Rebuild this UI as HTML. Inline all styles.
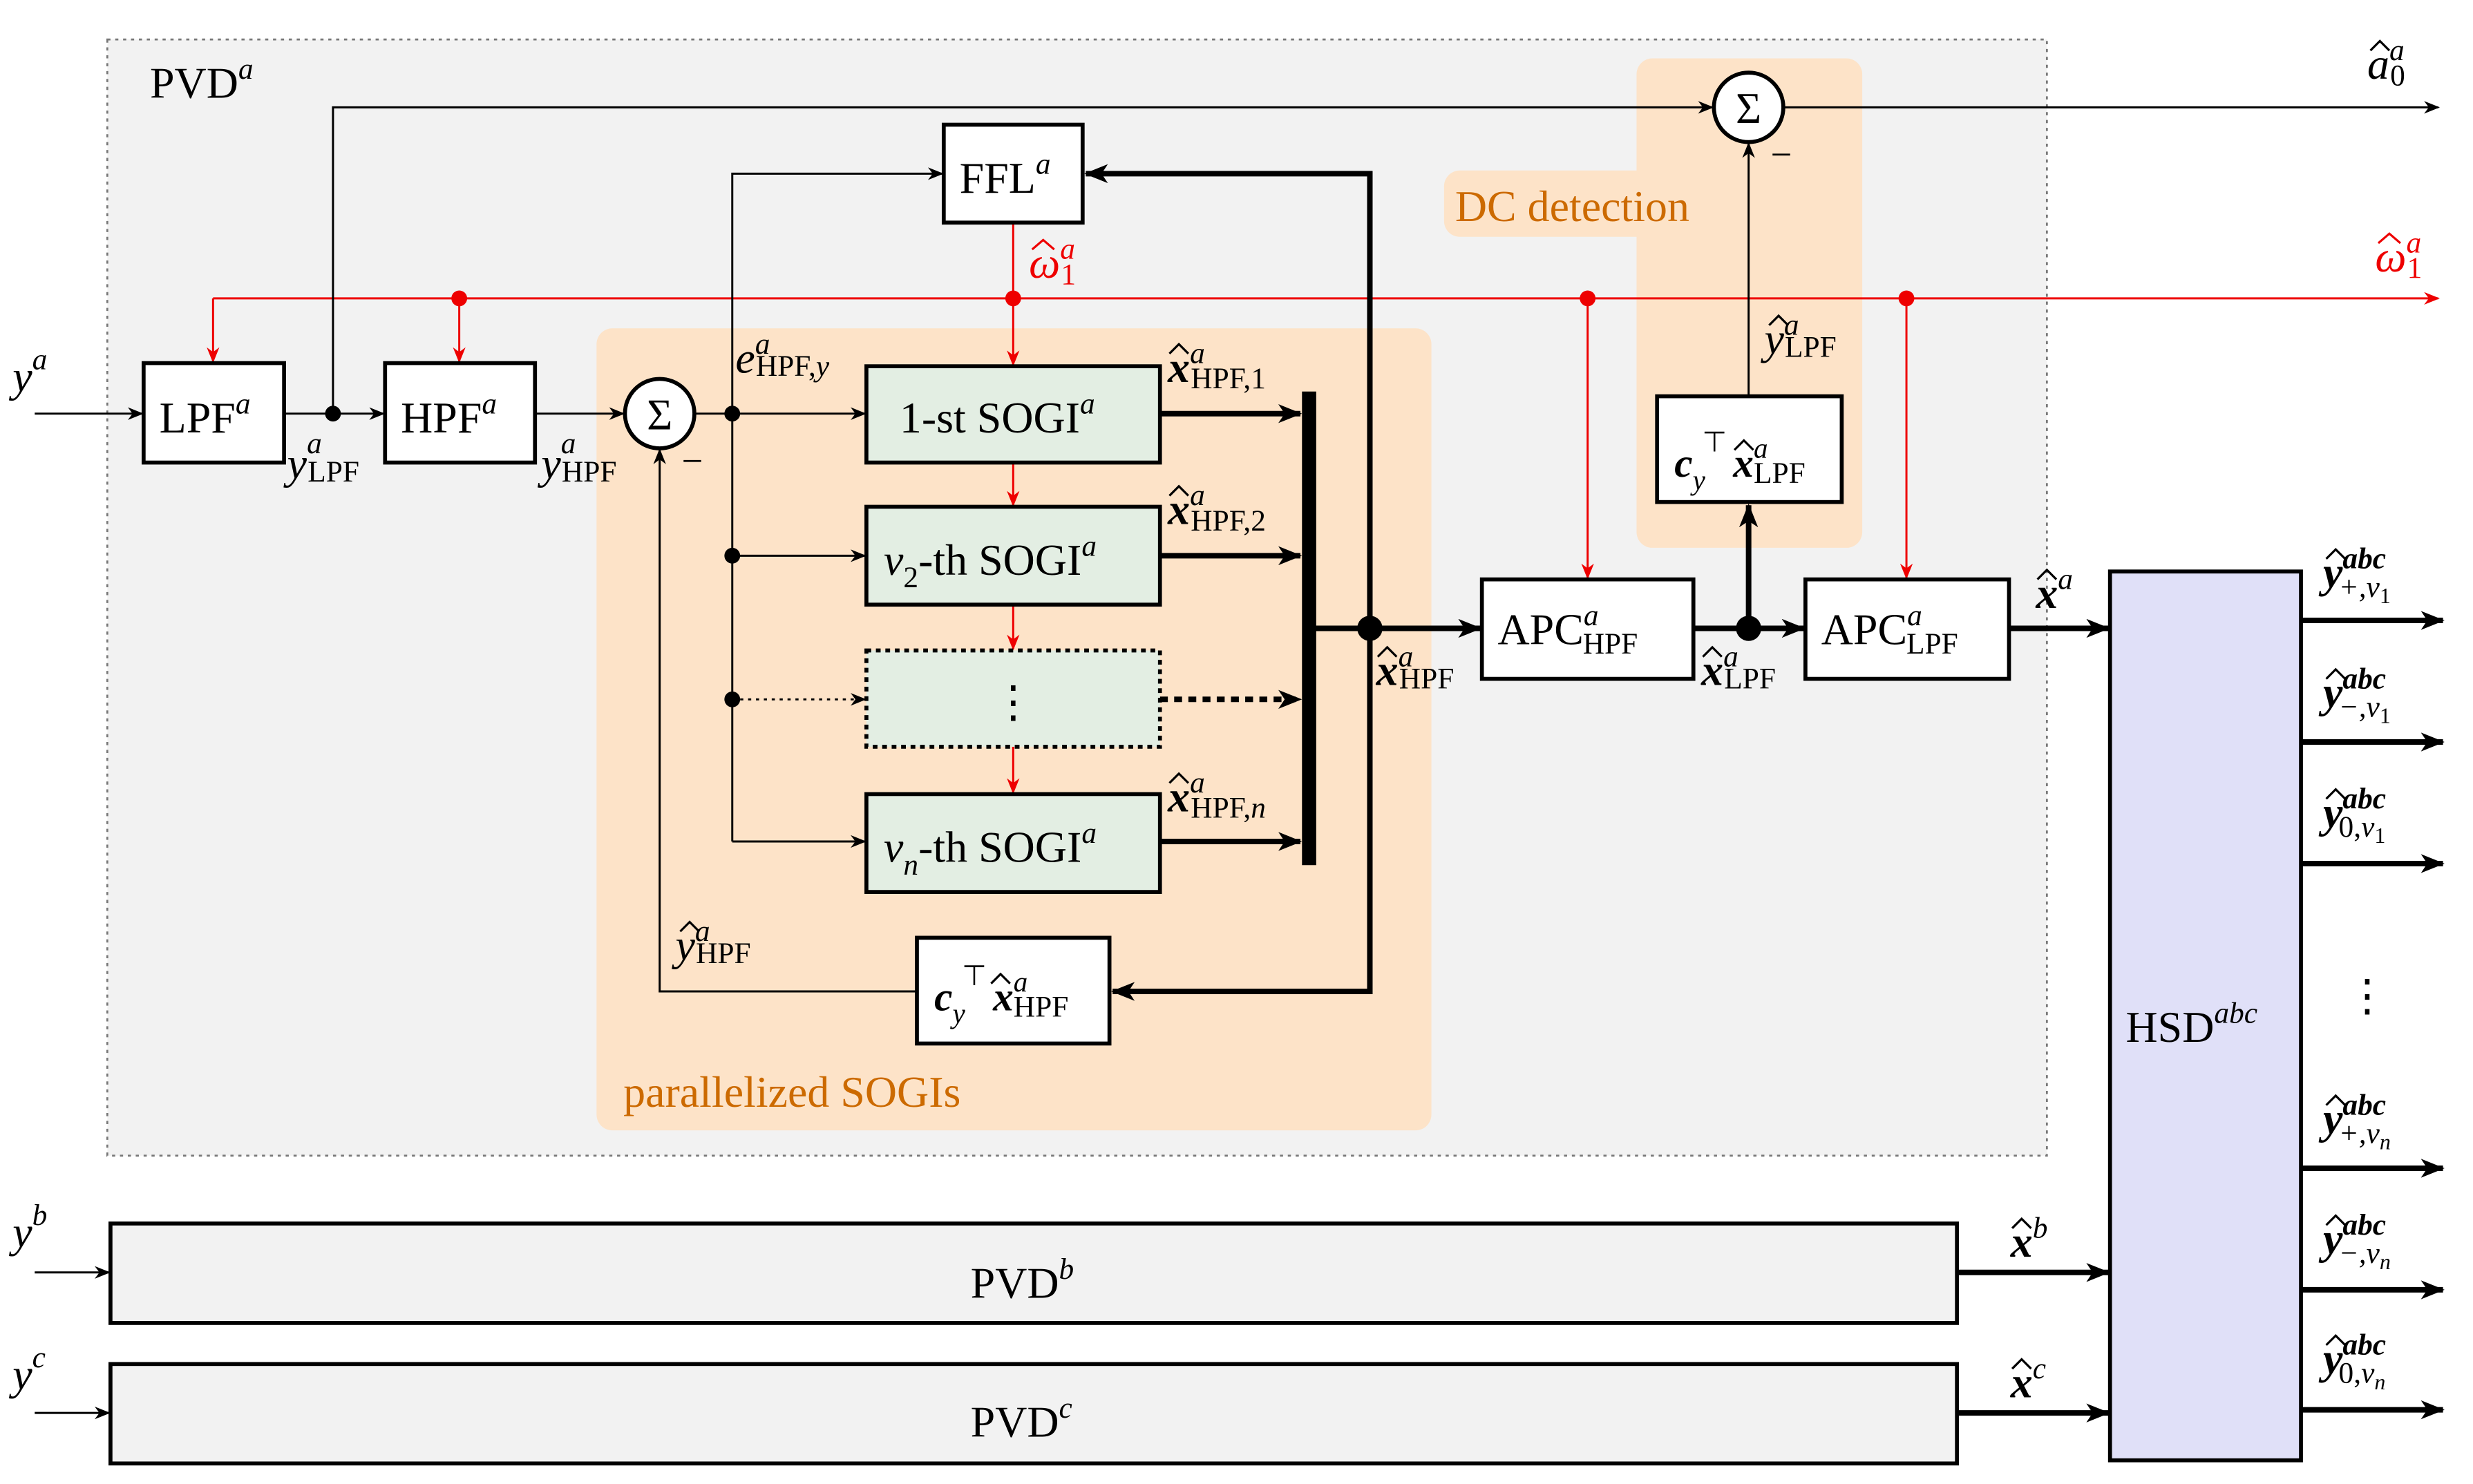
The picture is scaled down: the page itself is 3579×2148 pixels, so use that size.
<!DOCTYPE html>
<html><head><meta charset="utf-8">
<style>
html,body{margin:0;padding:0;background:#fff;}
svg{display:block;}
text{font-family:"Liberation Serif",serif;fill:#000;}
.i{font-style:italic;}
.b{font-weight:bold;font-style:italic;}
</style></head>
<body>
<svg width="3579" height="2148" viewBox="0 0 1567 940" preserveAspectRatio="none" xmlns="http://www.w3.org/2000/svg">
<defs>
<marker id="a" markerWidth="10" markerHeight="8" refX="9" refY="4" orient="auto" markerUnits="userSpaceOnUse"><path d="M0,0 L10,4 L0,8 L3,4 z" fill="#000"/></marker>
<marker id="A" markerWidth="16" markerHeight="12" refX="14" refY="6" orient="auto" markerUnits="userSpaceOnUse"><path d="M0,0 L15,6 L0,12 L4,6 z" fill="#000"/></marker>
<marker id="r" markerWidth="10" markerHeight="8" refX="9" refY="4" orient="auto" markerUnits="userSpaceOnUse"><path d="M0,0 L10,4 L0,8 L3,4 z" fill="#e00"/></marker>
</defs>
<rect width="1567" height="940" fill="#fff"/>
<rect x="68" y="25" width="1229" height="707" fill="#f2f2f2" stroke="#777" stroke-width="1.2" stroke-dasharray="2,3"/>
<rect x="378" y="208" width="529" height="508" rx="10" fill="#fde3c8"/>
<rect x="1037" y="37" width="143" height="310" rx="10" fill="#fde3c8"/>
<rect x="915" y="108" width="190" height="42" rx="10" fill="#fde3c8"/>
<text x="95" y="62" font-size="28">PVD<tspan class="i" font-size="19" dy="-12">a</tspan></text>
<text x="922" y="140" font-size="28" style="fill:#cc6a00">DC detection</text>
<text x="395" y="701" font-size="28" style="fill:#cc6a00">parallelized SOGIs</text>

<g stroke="#e00" stroke-width="1.3" fill="none">
<line x1="135" y1="189" x2="1545" y2="189" marker-end="url(#r)"/>
<line x1="135" y1="189" x2="135" y2="229" marker-end="url(#r)"/>
<line x1="291" y1="189" x2="291" y2="229" marker-end="url(#r)"/>
<line x1="642" y1="141" x2="642" y2="231" marker-end="url(#r)"/>
<line x1="1006" y1="189" x2="1006" y2="366" marker-end="url(#r)"/>
<line x1="1208" y1="189" x2="1208" y2="366" marker-end="url(#r)"/>
<line x1="642" y1="293" x2="642" y2="320" marker-end="url(#r)"/>
<line x1="642" y1="383" x2="642" y2="411" marker-end="url(#r)"/>
<line x1="642" y1="473" x2="642" y2="502" marker-end="url(#r)"/>
</g>
<g fill="#e00"><circle cx="291" cy="189" r="5"/><circle cx="642" cy="189" r="5"/><circle cx="1006" cy="189" r="5"/><circle cx="1208" cy="189" r="5"/></g>

<g stroke="#000" stroke-width="1.3" fill="none">
<line x1="22" y1="262" x2="90" y2="262" marker-end="url(#a)"/>
<line x1="180" y1="262" x2="243" y2="262" marker-end="url(#a)"/>
<polyline points="211,262 211,68 1085,68" marker-end="url(#a)"/>
<line x1="1130" y1="68" x2="1545" y2="68" marker-end="url(#a)"/>
<line x1="339" y1="262" x2="395" y2="262" marker-end="url(#a)"/>
<line x1="440" y1="262" x2="548" y2="262" marker-end="url(#a)"/>
<polyline points="464,262 464,110 597,110" marker-end="url(#a)"/>
<line x1="464" y1="262" x2="464" y2="533"/>
<line x1="464" y1="352" x2="548" y2="352" marker-end="url(#a)"/>
<line x1="464" y1="443" x2="548" y2="443" stroke-dasharray="2,3" marker-end="url(#a)"/>
<line x1="464" y1="533" x2="548" y2="533" marker-end="url(#a)"/>
<polyline points="581,628 418,628 418,285" marker-end="url(#a)"/>
<line x1="1108" y1="251" x2="1108" y2="91" marker-end="url(#a)"/>
<line x1="22" y1="806" x2="69" y2="806" marker-end="url(#a)"/>
<line x1="22" y1="895" x2="69" y2="895" marker-end="url(#a)"/>
</g>
<g fill="#000"><circle cx="211" cy="262" r="5"/><circle cx="464" cy="262" r="5"/><circle cx="464" cy="352" r="5"/><circle cx="464" cy="443" r="5"/></g>

<g stroke="#000" stroke-width="3.5" fill="none">
<line x1="735" y1="262" x2="824" y2="262" marker-end="url(#A)"/>
<line x1="735" y1="352" x2="824" y2="352" marker-end="url(#A)"/>
<line x1="735" y1="443" x2="824" y2="443" stroke-dasharray="5,4" marker-end="url(#A)"/>
<line x1="735" y1="533" x2="824" y2="533" marker-end="url(#A)"/>
<line x1="833" y1="398" x2="938" y2="398" marker-end="url(#A)"/>
<polyline points="868,398 868,110 688,110" marker-end="url(#A)"/>
<polyline points="868,398 868,628 705,628" marker-end="url(#A)"/>
<line x1="1073" y1="398" x2="1143" y2="398" marker-end="url(#A)"/>
<line x1="1108" y1="398" x2="1108" y2="320" marker-end="url(#A)"/>
<line x1="1273" y1="398" x2="1336" y2="398" marker-end="url(#A)"/>
<line x1="1240" y1="806" x2="1336" y2="806" marker-end="url(#A)"/>
<line x1="1240" y1="895" x2="1336" y2="895" marker-end="url(#A)"/>
<line x1="1458" y1="393" x2="1548" y2="393" marker-end="url(#A)"/>
<line x1="1458" y1="470" x2="1548" y2="470" marker-end="url(#A)"/>
<line x1="1458" y1="547" x2="1548" y2="547" marker-end="url(#A)"/>
<line x1="1458" y1="740" x2="1548" y2="740" marker-end="url(#A)"/>
<line x1="1458" y1="817" x2="1548" y2="817" marker-end="url(#A)"/>
<line x1="1458" y1="893" x2="1548" y2="893" marker-end="url(#A)"/>
</g>
<rect x="825" y="248" width="9" height="300" fill="#000"/>
<g fill="#000"><circle cx="868" cy="398" r="8"/><circle cx="1108" cy="398" r="8"/></g>

<g stroke="#000" stroke-width="2.5">
<rect x="91" y="230" width="89" height="63" fill="#fff"/>
<rect x="244" y="230" width="95" height="63" fill="#fff"/>
<rect x="598" y="79" width="88" height="62" fill="#fff"/>
<rect x="549" y="232" width="186" height="61" fill="#e3eee3"/>
<rect x="549" y="321" width="186" height="62" fill="#e3eee3"/>
<rect x="549" y="412" width="186" height="61" fill="#e3eee3" stroke-dasharray="3,3"/>
<rect x="549" y="503" width="186" height="62" fill="#e3eee3"/>
<rect x="581" y="594" width="122" height="67" fill="#fff"/>
<rect x="939" y="367" width="134" height="63" fill="#fff"/>
<rect x="1144" y="367" width="129" height="63" fill="#fff"/>
<rect x="1050" y="251" width="117" height="67" fill="#fff"/>
<rect x="1337" y="362" width="121" height="563" fill="#e0e0f8"/>
<rect x="70" y="775" width="1170" height="63" fill="#f2f2f2"/>
<rect x="70" y="864" width="1170" height="63" fill="#f2f2f2"/>
<circle cx="418" cy="262" r="22" fill="#fff"/>
<circle cx="1108" cy="68" r="22" fill="#fff"/>
</g>
<text x="418" y="272" font-size="28" text-anchor="middle">Σ</text>
<text x="1108" y="78" font-size="28" text-anchor="middle">Σ</text>
<text x="432" y="300" font-size="24">−</text>
<text x="1122" y="106" font-size="24">−</text>

<text x="101" y="274" font-size="28">LPF<tspan class="i" font-size="19" dy="-12">a</tspan></text>
<text x="254" y="274" font-size="28">HPF<tspan class="i" font-size="19" dy="-12">a</tspan></text>
<text x="608" y="122" font-size="28">FFL<tspan class="i" font-size="19" dy="-12">a</tspan></text>
<text x="570" y="274" font-size="28">1-st SOGI<tspan class="i" font-size="19" dy="-12">a</tspan></text>
<text x="560" y="364" font-size="28"><tspan class="i">ν</tspan><tspan font-size="19" dy="8">2</tspan><tspan dy="-8">-th SOGI</tspan><tspan class="i" font-size="19" dy="-12">a</tspan></text>
<text x="642" y="454" font-size="28" text-anchor="middle">⋮</text>
<text x="560" y="546" font-size="28"><tspan class="i">ν</tspan><tspan class="i" font-size="19" dy="8">n</tspan><tspan dy="-8">-th SOGI</tspan><tspan class="i" font-size="19" dy="-12">a</tspan></text>

<text x="592" y="640" font-size="26"><tspan class="b">c</tspan><tspan class="i" font-size="18" dy="8">y</tspan><tspan font-size="18" dx="-2" dy="-24">⊤</tspan><tspan class="b" dx="4" dy="16">x</tspan><tspan class="i" font-size="18" dy="-12">a</tspan><tspan font-size="19" dx="-9" dy="16">HPF</tspan></text>
<text x="1061" y="302" font-size="26"><tspan class="b">c</tspan><tspan class="i" font-size="18" dy="8">y</tspan><tspan font-size="18" dx="-2" dy="-24">⊤</tspan><tspan class="b" dx="4" dy="16">x</tspan><tspan class="i" font-size="18" dy="-12">a</tspan><tspan font-size="19" dx="-9" dy="16">LPF</tspan></text>

<text x="949" y="408" font-size="28">APC<tspan class="i" font-size="19" dy="-12">a</tspan><tspan font-size="19" dx="-10" dy="18">HPF</tspan></text>
<text x="1154" y="408" font-size="28">APC<tspan class="i" font-size="19" dy="-12">a</tspan><tspan font-size="19" dx="-10" dy="18">LPF</tspan></text>
<text x="1347" y="660" font-size="28">HSD<tspan class="i" font-size="19" dy="-12">abc</tspan></text>
<text x="615" y="822" font-size="28">PVD<tspan class="i" font-size="19" dy="-12">b</tspan></text>
<text x="615" y="910" font-size="28">PVD<tspan class="i" font-size="19" dy="-12">c</tspan></text>

<g font-size="28">
<text x="8" y="248" class="i">y<tspan font-size="19" dy="-14">a</tspan></text>
<text x="8" y="790" class="i">y<tspan font-size="19" dy="-14">b</tspan></text>
<text x="8" y="880" class="i">y<tspan font-size="19" dy="-14">c</tspan></text>
<text x="182" y="303" class="i">y<tspan font-size="19" dy="-16">a</tspan><tspan font-style="normal" font-size="19" dx="-9" dy="18">LPF</tspan></text>
<text x="343" y="303" class="i">y<tspan font-size="19" dy="-16">a</tspan><tspan font-style="normal" font-size="19" dx="-9" dy="18">HPF</tspan></text>
<text x="466" y="236" class="i">e<tspan font-size="19" dy="-12">a</tspan><tspan font-style="normal" font-size="19" dx="-9" dy="14">HPF,</tspan><tspan font-size="19">y</tspan></text>
<text x="740" y="242" class="b">x<tspan font-size="19" dy="-12" font-weight="normal">a</tspan><tspan font-weight="normal" font-style="normal" font-size="19" dx="-9" dy="16">HPF,1</tspan></text>
<text x="740" y="332" class="b">x<tspan font-size="19" dy="-12" font-weight="normal">a</tspan><tspan font-weight="normal" font-style="normal" font-size="19" dx="-9" dy="16">HPF,2</tspan></text>
<text x="740" y="514" class="b">x<tspan font-size="19" dy="-12" font-weight="normal">a</tspan><tspan font-weight="normal" font-style="normal" font-size="19" dx="-9" dy="16">HPF,</tspan><tspan font-weight="normal" font-size="19">n</tspan></text>
<text x="872" y="434" class="b">x<tspan font-size="19" dy="-12" font-weight="normal">a</tspan><tspan font-weight="normal" font-style="normal" font-size="19" dx="-9" dy="14">HPF</tspan></text>
<text x="1078" y="434" class="b">x<tspan font-size="19" dy="-12" font-weight="normal">a</tspan><tspan font-weight="normal" font-style="normal" font-size="19" dx="-9" dy="14">LPF</tspan></text>
<text x="1290" y="385" class="b">x<tspan font-size="19" dy="-12" font-weight="normal">a</tspan></text>
<text x="1274" y="796" class="b">x<tspan font-size="19" dy="-12" font-weight="normal">b</tspan></text>
<text x="1274" y="885" class="b">x<tspan font-size="19" dy="-12" font-weight="normal">c</tspan></text>
<text x="428" y="608" class="i">y<tspan font-size="19" dy="-12">a</tspan><tspan font-style="normal" font-size="19" dx="-9" dy="14">HPF</tspan></text>
<text x="1118" y="224" class="i">y<tspan font-size="19" dy="-12">a</tspan><tspan font-style="normal" font-size="19" dx="-9" dy="14">LPF</tspan></text>
<text x="652" y="176" class="i" style="fill:#e00">ω<tspan font-size="19" dy="-12" style="fill:#e00">a</tspan><tspan font-style="normal" font-size="19" dx="-9" dy="16" style="fill:#e00">1</tspan></text>
<text x="1505" y="172" class="i" style="fill:#e00">ω<tspan font-size="19" dy="-12" style="fill:#e00">a</tspan><tspan font-style="normal" font-size="19" dx="-9" dy="16" style="fill:#e00">1</tspan></text>
<text x="1500" y="50" class="i">a<tspan font-size="19" dy="-12">a</tspan><tspan font-style="normal" font-size="19" dx="-9" dy="16">0</tspan></text>
<text x="1472" y="372" class="b">y<tspan font-size="19" dy="-12">abc</tspan><tspan font-weight="normal" font-size="19" dx="-30" dy="18">+,ν</tspan><tspan font-weight="normal" font-style="normal" font-size="14" dy="4">1</tspan></text>
<text x="1472" y="448" class="b">y<tspan font-size="19" dy="-12">abc</tspan><tspan font-weight="normal" font-size="19" dx="-30" dy="18">−,ν</tspan><tspan font-weight="normal" font-style="normal" font-size="14" dy="4">1</tspan></text>
<text x="1472" y="524" class="b">y<tspan font-size="19" dy="-12">abc</tspan><tspan font-weight="normal" font-style="normal" font-size="19" dx="-30" dy="18">0,</tspan><tspan font-weight="normal" font-size="19">ν</tspan><tspan font-weight="normal" font-style="normal" font-size="14" dy="4">1</tspan></text>
<text x="1500" y="640" text-anchor="middle">⋮</text>
<text x="1472" y="718" class="b">y<tspan font-size="19" dy="-12">abc</tspan><tspan font-weight="normal" font-size="19" dx="-30" dy="18">+,ν</tspan><tspan font-weight="normal" font-size="14" dy="4">n</tspan></text>
<text x="1472" y="794" class="b">y<tspan font-size="19" dy="-12">abc</tspan><tspan font-weight="normal" font-size="19" dx="-30" dy="18">−,ν</tspan><tspan font-weight="normal" font-size="14" dy="4">n</tspan></text>
<text x="1472" y="870" class="b">y<tspan font-size="19" dy="-12">abc</tspan><tspan font-weight="normal" font-style="normal" font-size="19" dx="-30" dy="18">0,</tspan><tspan font-weight="normal" font-size="19">ν</tspan><tspan font-weight="normal" font-size="14" dy="4">n</tspan></text>
</g>

<g fill="none" stroke="#000" stroke-width="1.4">
<polyline points="628,623 634,617 640,623"/>
<polyline points="1099,285 1105,279 1111,285"/>
<polyline points="741,224 747,218 753,224"/>
<polyline points="741,314 747,308 753,314"/>
<polyline points="741,496 747,490 753,496"/>
<polyline points="873,416 879,410 885,416"/>
<polyline points="1079,416 1085,410 1091,416"/>
<polyline points="1291,367 1297,361 1303,367"/>
<polyline points="1275,778 1281,772 1287,778"/>
<polyline points="1275,867 1281,861 1287,867"/>
<polyline points="431,590 437,584 443,590"/>
<polyline points="1121,206 1127,200 1133,206"/>
<polyline points="1502,32 1508,26 1514,32"/>
<polyline points="1474,354 1480,348 1486,354"/>
<polyline points="1474,430 1480,424 1486,430"/>
<polyline points="1474,506 1480,500 1486,506"/>
<polyline points="1474,700 1480,694 1486,700"/>
<polyline points="1474,776 1480,770 1486,776"/>
<polyline points="1474,852 1480,846 1486,852"/>
</g>
<g fill="none" stroke="#e00" stroke-width="1.4">
<polyline points="654,158 661,152 668,158"/>
<polyline points="1507,154 1514,148 1521,154"/>
</g>
</svg>
</body></html>
